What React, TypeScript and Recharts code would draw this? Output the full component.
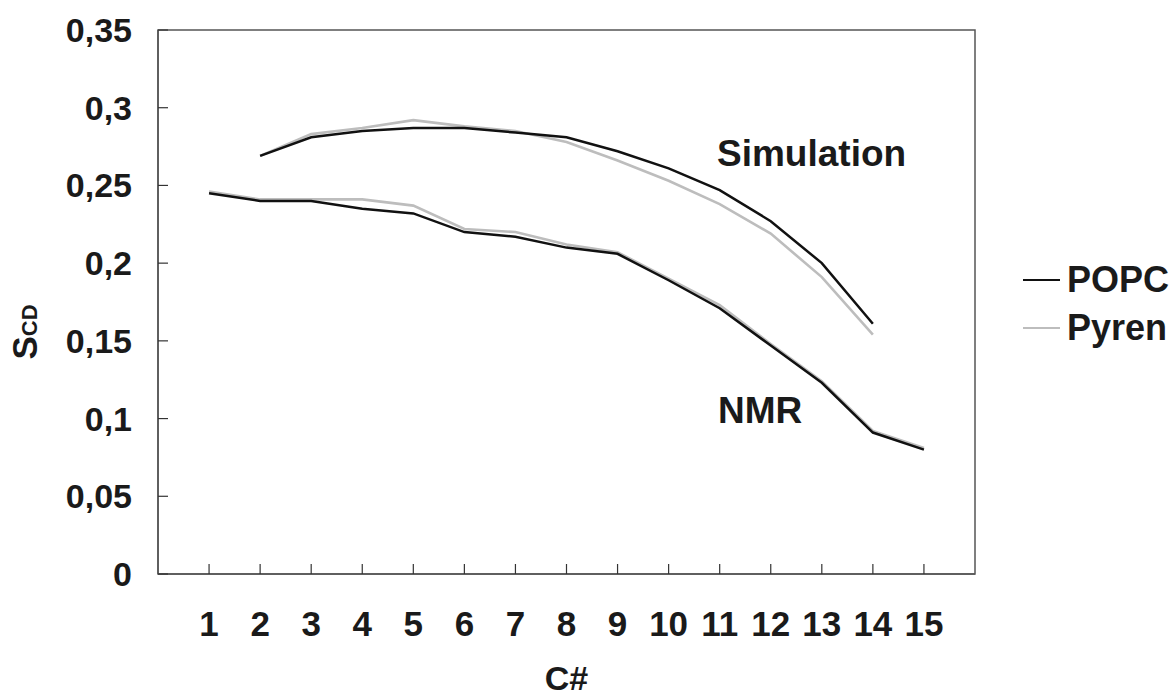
import React from "react";
import { LineChart, Line, XAxis, YAxis, ReferenceArea, Legend } from "recharts";

const carbons = [1, 2, 3, 4, 5, 6, 7, 8, 9, 10, 11, 12, 13, 14, 15];
const simPOPC = [null, 0.269, 0.281, 0.285, 0.287, 0.287, 0.284, 0.281, 0.272, 0.261, 0.247, 0.227, 0.2, 0.161, null];
const simPyren = [null, 0.269, 0.283, 0.287, 0.292, 0.288, 0.285, 0.278, 0.266, 0.253, 0.238, 0.219, 0.191, 0.154, null];
const nmrPOPC = [0.245, 0.24, 0.24, 0.235, 0.232, 0.22, 0.217, 0.21, 0.206, 0.189, 0.171, 0.147, 0.123, 0.091, 0.08];
const nmrPyren = [0.246, 0.241, 0.241, 0.241, 0.237, 0.222, 0.22, 0.212, 0.207, 0.19, 0.173, 0.148, 0.124, 0.092, 0.081];
const yTicks = [0, 0.05, 0.1, 0.15, 0.2, 0.25, 0.3, 0.35];
const legendNames = ["POPC", "Pyren"];
const legendColors = ["#111111", "#bdbdbd"];

const data = carbons.map((c, i) => ({
  c,
  simPOPC: simPOPC[i],
  simPyren: simPyren[i],
  nmrPOPC: nmrPOPC[i],
  nmrPyren: nmrPyren[i],
}));

const FONT = "'Liberation Sans', Arial, sans-serif";
const TXT = "#1a1a1a";
const PLOT_LEFT = 158;
const PLOT_BOTTOM = 574;
const TICK_LEN = 10;

const fmt = (v: number) => String(v).replace(".", ",");

const XTick = (props: any) => {
  const { x, payload } = props;
  return (
    <g>
      <line x1={x} x2={x} y1={PLOT_BOTTOM} y2={PLOT_BOTTOM - TICK_LEN} stroke="#333" strokeWidth={1.2} />
      <text
        x={x}
        y={PLOT_BOTTOM + 62}
        textAnchor="middle"
        fill={TXT}
        fontFamily={FONT}
        fontWeight="bold"
        fontSize={35}
      >
        {payload.value}
      </text>
    </g>
  );
};

const YTick = (props: any) => {
  const { y, payload } = props;
  return (
    <g>
      <line x1={PLOT_LEFT} x2={PLOT_LEFT + TICK_LEN} y1={y} y2={y} stroke="#333" strokeWidth={1.2} />
      <text
        x={PLOT_LEFT - 26}
        y={y + 12}
        textAnchor="end"
        fill={TXT}
        fontFamily={FONT}
        fontWeight="bold"
        fontSize={34}
      >
        {fmt(payload.value)}
      </text>
    </g>
  );
};

const YTitle = (props: any) => {
  const vb = props.viewBox || { x: 0, y: 30, width: 158, height: 544 };
  const cx = 37;
  const cy = vb.y + vb.height / 2 + 30;
  return (
    <text
      x={cx}
      y={cy}
      transform={`rotate(-90 ${cx} ${cy})`}
      textAnchor="middle"
      fill={TXT}
      fontFamily={FONT}
      fontWeight="bold"
    >
      <tspan fontSize={35}>S</tspan>
      <tspan fontSize={22}>CD</tspan>
    </text>
  );
};

const XTitle = (props: any) => {
  const vb = props.viewBox || { x: 158, y: 574, width: 817, height: 121 };
  return (
    <text
      x={vb.x + vb.width / 2}
      y={690}
      textAnchor="middle"
      fill={TXT}
      fontFamily={FONT}
      fontWeight="bold"
      fontSize={34}
    >
      C#
    </text>
  );
};

const LegendContent = () => (
  <div style={{ fontFamily: FONT, fontWeight: "bold", fontSize: 36, color: TXT }}>
    {legendNames.map((n, i) => (
      <div key={n} style={{ display: "flex", alignItems: "center", height: 48 }}>
        <span
          style={{
            display: "inline-block",
            width: 37,
            height: 0,
            borderTop: `2.5px solid ${legendColors[i]}`,
            marginRight: 7,
          }}
        />
        <span style={{ lineHeight: "36px" }}>{n}</span>
      </div>
    ))}
  </div>
);

const annot = (text: string, left: number, top: number) => (
  <div
    style={{
      position: "absolute",
      left,
      top,
      fontFamily: FONT,
      fontWeight: "bold",
      fontSize: 37,
      lineHeight: "37px",
      color: TXT,
      whiteSpace: "nowrap",
    }}
  >
    {text}
  </div>
);

export default function App() {
  return (
    <div style={{ position: "absolute", left: 0, top: 0, width: 1174, height: 695, background: "#fff" }}>
      <LineChart
        width={1174}
        height={695}
        data={data}
        margin={{ top: 30, right: 199, bottom: 0, left: 0 }}
      >
        <ReferenceArea
          x1={0}
          x2={16}
          y1={0}
          y2={0.35}
          fill="none"
          stroke="#555"
          strokeWidth={1.5}
          ifOverflow="visible"
        />
        <XAxis
          dataKey="c"
          type="number"
          domain={[0, 16]}
          ticks={carbons}
          interval={0}
          height={121}
          tickSize={0}
          tickMargin={36}
          axisLine={{ stroke: "#555", strokeWidth: 1.5 }}
          tickLine={false}
          tick={<XTick />}
          label={<XTitle />}
        />
        <YAxis
          type="number"
          domain={[0, 0.35]}
          ticks={yTicks}
          interval={0}
          width={158}
          tickSize={0}
          tickMargin={26}
          axisLine={{ stroke: "#555", strokeWidth: 1.5 }}
          tickLine={false}
          tick={<YTick />}
          label={<YTitle />}
        />
        <Legend
          layout="vertical"
          align="center"
          verticalAlign="middle"
          content={<LegendContent />}
          wrapperStyle={{ position: "absolute", left: 1023, top: 256, width: 151, height: 96 }}
        />
        <Line dataKey="nmrPyren" stroke="#bdbdbd" strokeWidth={2.6} dot={false} isAnimationActive={false} legendType="none" />
        <Line dataKey="simPyren" stroke="#bdbdbd" strokeWidth={2.6} dot={false} isAnimationActive={false} />
        <Line dataKey="nmrPOPC" stroke="#111111" strokeWidth={2.5} dot={false} isAnimationActive={false} legendType="none" />
        <Line dataKey="simPOPC" stroke="#111111" strokeWidth={2.5} dot={false} isAnimationActive={false} />
      </LineChart>
      {annot("Simulation", 717, 135)}
      {annot("NMR", 718, 392)}
    </div>
  );
}
